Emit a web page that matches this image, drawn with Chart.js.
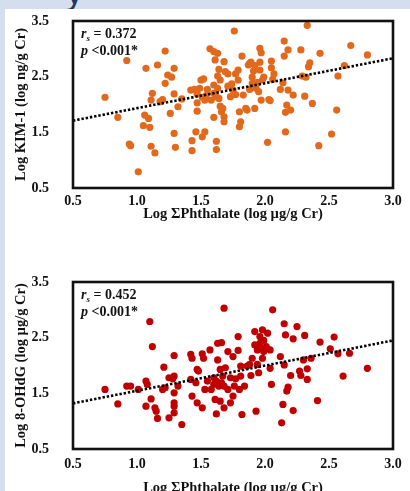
<!DOCTYPE html>
<html lang="en">
<head>
<meta charset="UTF-8">
<title>KIM-1 and 8-OHdG vs phthalate</title>
<script src="https://cdn.jsdelivr.net/npm/chart.js@4.4.0/dist/chart.umd.min.js"></script>
<style>
  html, body { margin: 0; padding: 0; }
  body { width: 410px; height: 491px; overflow: hidden; background: #d5deef; position: relative; }
  .head { position: absolute; left: 66px; top: -27px; font: 34px "Liberation Sans"; color: #1f3864; }
  .panel { position: absolute; left: 5px; top: 9px; width: 405px; height: 482px; background: #fff; }
  #chrt1 { position: absolute; left: 0; top: 0; }
  #chrt2 { position: absolute; left: 0; top: 245px; }
</style>
</head>
<body>
  <div class="head">y</div>
  <div class="panel"></div>
  <canvas id="chrt1" width="410" height="245"></canvas>
  <canvas id="chrt2" width="410" height="260"></canvas>

<script>
const xTicks = [0.5, 1.0, 1.5, 2.0, 2.5, 3.0]
const yTicks = [0.5, 1.5, 2.5, 3.5]
const xTitle = 'Log ΣPhthalate (log µg/g Cr)'

// top panel: KIM-1
const kimX = [
  0.75,0.85,0.92,0.94,0.95,1.01,1.07,1.06,1.09,1.05,
  1.10,1.11,1.14,1.12,1.11,1.16,1.18,1.20,1.22,1.22,
  1.24,1.26,1.27,1.29,1.29,1.29,1.30,1.32,1.35,1.42,
  1.43,1.43,1.45,1.46,1.47,1.47,1.47,1.49,1.50,1.52,
  1.51,1.51,1.53,1.53,1.54,1.55,1.57,1.58,1.60,1.60,
  1.60,1.60,1.61,1.62,1.62,1.62,1.63,1.63,1.63,1.64,
  1.64,1.65,1.65,1.66,1.67,1.68,1.68,1.68,1.69,1.71,
  1.71,1.73,1.74,1.75,1.76,1.77,1.77,1.79,1.79,1.80,
  1.80,1.81,1.82,1.83,1.85,1.86,1.87,1.88,1.96,1.88,
  1.97,1.89,1.90,1.90,1.91,1.92,1.92,1.93,1.94,1.95,
  1.96,1.96,1.97,1.98,1.99,2.02,2.03,2.04,2.05,2.05,
  2.06,2.07,2.12,2.14,2.15,2.15,2.16,2.16,2.17,2.18,
  2.18,2.20,2.22,2.28,2.29,2.31,2.32,2.33,2.34,2.35,
  2.37,2.42,2.43,2.52,2.56,2.57,2.62,2.67,2.80
]
const kimY = [
  2.13,1.77,2.79,1.29,1.26,0.79,2.65,1.81,1.75,1.62,
  1.59,1.25,1.13,2.20,2.08,2.71,2.05,2.09,2.38,2.96,
  2.53,1.84,2.49,2.65,2.19,1.48,1.23,1.96,2.10,2.26,
  1.35,1.17,2.27,1.51,2.19,2.03,1.88,2.29,2.44,2.46,
  1.42,2.13,2.08,1.51,2.16,2.27,3.00,2.08,2.35,1.77,
  2.95,2.20,2.80,2.14,1.34,1.19,2.92,2.51,2.29,2.63,
  2.11,1.97,2.44,1.87,1.93,1.78,2.77,1.69,2.59,2.33,
  2.55,2.14,2.37,2.26,3.32,2.55,2.18,2.62,2.44,1.87,
  1.60,1.69,2.87,2.17,1.93,1.90,2.71,2.27,3.01,2.74,
  2.93,2.76,2.49,2.38,2.60,1.93,2.70,2.29,2.40,2.23,
  2.62,2.76,2.08,2.44,2.49,1.32,2.09,2.07,2.66,2.78,
  2.45,2.55,2.27,2.39,3.14,2.87,1.86,1.51,1.99,2.26,
  2.98,1.90,2.17,2.98,2.51,2.15,2.49,3.42,2.68,2.75,
  2.02,1.26,2.92,1.47,1.90,2.51,2.70,3.06,2.89
]
const kimTrend = [1.71, 2.83]   // fitted y at x = 0.5 and x = 3.0
const kimStats = ['0.372', '<0.001*']

// bottom panel: 8-OHdG
const ohdgX = [
  0.75,0.85,0.92,0.95,1.01,1.07,1.08,1.07,1.10,1.12,
  1.11,1.14,1.15,1.16,1.21,1.20,1.22,1.25,1.25,1.28,
  1.29,1.29,1.29,1.29,1.29,1.29,1.32,1.35,1.42,1.42,
  1.43,1.43,1.46,1.47,1.47,1.48,1.51,1.52,1.51,1.53,
  1.55,1.57,1.58,1.60,1.60,1.61,1.62,1.62,1.63,1.63,
  1.64,1.65,1.65,1.66,1.66,1.67,1.68,1.68,1.68,1.69,
  1.71,1.71,1.73,1.73,1.75,1.75,1.76,1.77,1.79,1.79,
  1.80,1.81,1.81,1.82,1.84,1.86,1.88,1.89,1.90,1.92,
  1.92,1.93,1.94,1.94,1.95,1.96,1.96,1.97,1.98,1.98,
  1.99,1.99,2.01,2.02,2.04,2.04,2.05,2.06,2.12,2.13,
  2.14,2.15,2.15,2.16,2.17,2.18,2.20,2.22,2.22,2.25,
  2.27,2.28,2.30,2.31,2.33,2.33,2.36,2.41,2.43,2.51,
  2.54,2.57,2.61,2.66,2.80
]
const ohdgY = [
  1.57,1.31,1.63,1.63,1.57,1.72,1.66,1.27,2.79,2.34,
  1.40,1.24,1.18,1.05,1.97,1.57,1.60,1.06,1.78,1.76,
  2.18,1.81,1.33,1.27,1.15,1.51,1.63,0.94,1.75,2.20,
  2.13,1.45,1.69,1.93,1.33,1.90,2.21,2.13,1.24,1.57,
  1.72,2.28,1.57,1.78,1.66,1.39,1.72,1.13,2.40,2.10,
  1.63,1.36,1.93,2.41,1.69,1.81,1.24,3.03,1.63,1.96,
  2.25,1.57,1.33,1.78,2.16,1.45,1.63,1.76,2.52,2.27,
  1.57,1.81,1.99,1.12,1.63,1.99,2.02,1.82,2.13,2.61,
  2.37,1.18,2.28,2.02,1.87,2.52,2.40,2.31,2.13,2.64,
  2.45,2.25,2.34,2.58,1.95,2.28,1.66,3.00,2.16,0.97,
  1.30,2.01,2.75,2.55,1.54,1.61,1.82,1.19,2.48,2.70,
  1.90,1.82,2.10,2.54,1.75,1.94,2.13,1.37,2.42,2.30,
  2.51,2.21,1.81,2.22,1.95
]
const ohdgTrend = [1.32, 2.45]
const ohdgStats = ['0.452', '<0.001*']

const serif = '"Liberation Serif", "Times New Roman", serif'
const tickFont = { family: serif, size: 14, weight: 'bold' }
const titleFont = { family: serif, size: 14.5, weight: 'bold' }

// black frame round the plot area
const boxPlugin = {
  id: 'box',
  afterDatasetsDraw(chart) {
    const { ctx, chartArea: a } = chart
    ctx.save()
    ctx.strokeStyle = '#111'
    ctx.lineWidth = 2.6
    ctx.strokeRect(a.left, a.top, a.right - a.left, a.bottom - a.top)
    ctx.restore()
  }
}

function statsPlugin(stats) {
  return {
    id: 'stats',
    afterDraw(chart) {
      const { ctx, chartArea: a } = chart
      ctx.save()
      ctx.fillStyle = '#111'
      ctx.textBaseline = 'alphabetic'
      let x = a.left + 8, y = a.top + 17
      ctx.font = 'italic bold 14px ' + serif
      ctx.fillText('r', x, y)
      x += ctx.measureText('r').width
      ctx.font = 'italic bold 9px ' + serif
      ctx.fillText('s', x, y + 3)
      x += ctx.measureText('s').width
      ctx.font = 'bold 14px ' + serif
      ctx.fillText(' = ' + stats[0], x, y)

      x = a.left + 8
      y += 17
      ctx.font = 'italic bold 14px ' + serif
      ctx.fillText('p', x, y)
      x += ctx.measureText('p').width
      ctx.font = 'bold 14px ' + serif
      ctx.fillText(' ' + stats[1], x, y)
      ctx.restore()
    }
  }
}

function makeChart(id, xs, ys, trend, color, yTitle, stats, lay) {
  const pts = xs.map((x, i) => ({ x: x, y: ys[i] }))
  return new Chart(document.getElementById(id), {
    type: 'scatter',
    data: {
      datasets: [
        { data: pts, backgroundColor: color, borderWidth: 0, pointRadius: 3.6, order: 2 },
        {
          type: 'line',
          data: [{ x: xTicks[0], y: trend[0] }, { x: xTicks[xTicks.length - 1], y: trend[1] }],
          borderColor: '#000', borderWidth: 2.6, borderDash: [2.4, 1.9],
          pointRadius: 0, fill: false, order: 1
        }
      ]
    },
    options: {
      responsive: false,
      animation: false,
      events: [],
      layout: { padding: { top: lay.top, right: 17, left: 0, bottom: 0 } },
      plugins: { legend: { display: false }, tooltip: { enabled: false } },
      scales: {
        x: {
          type: 'linear', min: 0.5, max: 3.0,
          grid: { display: false, drawTicks: false },
          border: { display: false },
          afterBuildTicks: s => { s.ticks = xTicks.map(v => ({ value: v })) },
          afterFit: s => { s.height = lay.xh; s.paddingLeft = 0; s.paddingRight = 0 },
          ticks: { padding: lay.xpad, color: '#111', font: tickFont, maxRotation: 0, autoSkip: false,
                   callback: v => v.toFixed(1) },
          title: { display: true, text: xTitle, color: '#111', font: titleFont,
                   padding: { top: 0, bottom: lay.xtitle } }
        },
        y: {
          type: 'linear', min: 0.5, max: 3.5,
          grid: { display: false, drawTicks: false },
          border: { display: false },
          afterBuildTicks: s => { s.ticks = yTicks.map(v => ({ value: v })) },
          afterFit: s => { s.width = 73; s.paddingTop = 0; s.paddingBottom = 0 },
          ticks: { padding: 24, color: '#111', font: tickFont, callback: v => v.toFixed(1) },
          title: { display: true, text: yTitle, color: '#111', font: titleFont,
                   padding: { top: 13, bottom: 0 } }
        }
      }
    },
    plugins: [boxPlugin, statsPlugin(stats)]
  })
}

makeChart('chrt1', kimX, kimY, kimTrend, '#e2691b', 'Log KIM-1 (log ng/g Cr)', kimStats,
  { top: 21, xh: 57, xpad: 5, xtitle: 22 })
makeChart('chrt2', ohdgX, ohdgY, ohdgTrend, '#c00000', 'Log 8-OHdG (log µg/g Cr)', ohdgStats,
  { top: 37, xh: 56, xpad: 7, xtitle: 8 })
</script>
</body>
</html>
